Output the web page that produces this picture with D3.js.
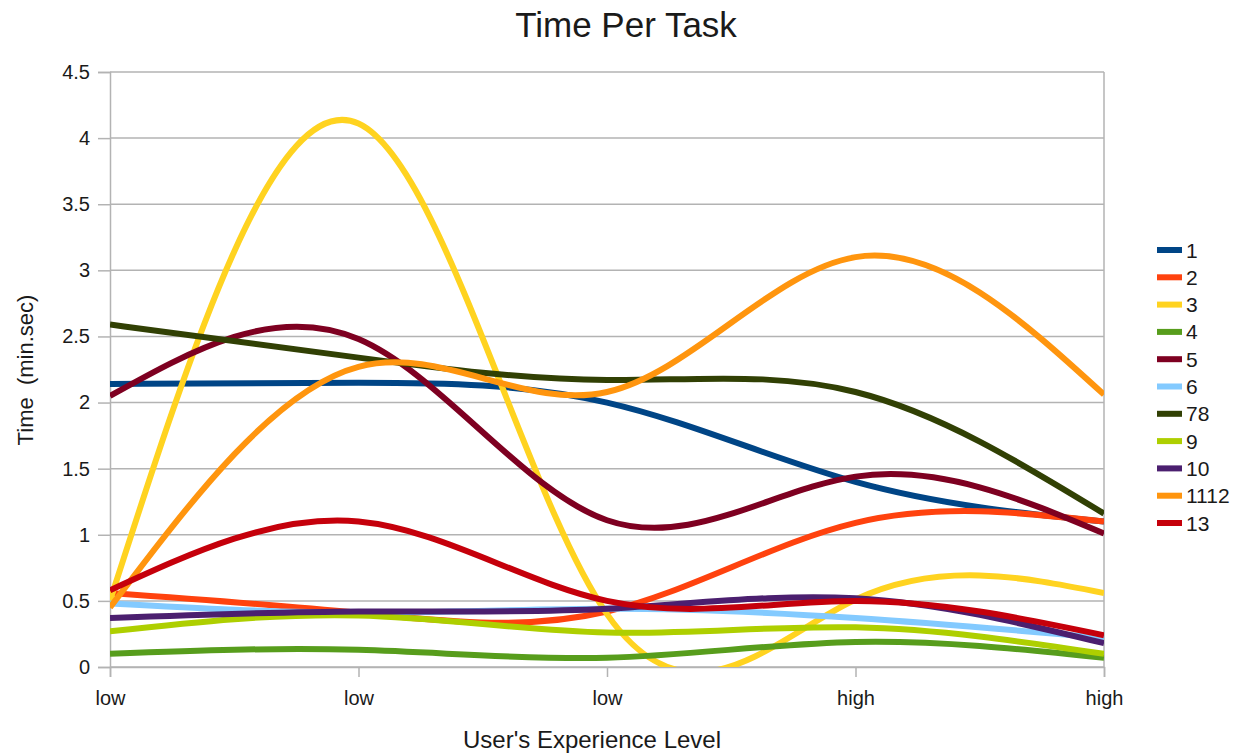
<html>
<head>
<style>
  body { margin: 0; background: #fff; }
  text { font-family: "Liberation Sans", Arial, sans-serif; fill: #1a1a1a; }
</style>
</head>
<body>
<script src="https://d3js.org/d3.v7.min.js" charset="utf-8"></script>
<script type="text/javascript">

// data
var categories = ["low", "low", "low", "high", "high"];
var seriesNames = ["1", "2", "3", "4", "5", "6", "78", "9", "10", "1112", "13"];
var colors = ["#004586", "#ff420e", "#ffd320", "#579d1c", "#7e0021", "#83caff",
              "#314004", "#aecf00", "#4b1f6f", "#ff950e", "#c5000b"];
var s1    = [2.14, 2.15, 2.00, 1.40, 1.10];
var s2    = [0.56, 0.41, 0.42, 1.09, 1.10];
var s3    = [0.50, 4.11, 0.40, 0.51, 0.56];
var s4    = [0.10, 0.13, 0.07, 0.19, 0.07];
var s5    = [2.05, 2.48, 1.11, 1.44, 1.01];
var s6    = [0.48, 0.41, 0.44, 0.37, 0.22];
var s78   = [2.59, 2.34, 2.17, 2.08, 1.16];
var s9    = [0.27, 0.39, 0.26, 0.30, 0.10];
var s10   = [0.37, 0.42, 0.44, 0.52, 0.18];
var s1112 = [0.45, 2.27, 2.08, 3.10, 2.06];
var s13   = [0.58, 1.10, 0.50, 0.50, 0.24];
var yTicks = [0, 0.5, 1, 1.5, 2, 2.5, 3, 3.5, 4, 4.5];

var values = [s1, s2, s3, s4, s5, s6, s78, s9, s10, s1112, s13];

// layout
var width = 1242, height = 756;
var plotLeft = 110, plotRight = 1104, plotTop = 72, plotBottom = 667;

var svg = d3.select("body").append("svg")
    .attr("width", width)
    .attr("height", height);

var x = d3.scalePoint()
    .domain(d3.range(categories.length))
    .range([plotLeft, plotRight]);

var y = d3.scaleLinear()
    .domain([0, 4.5])
    .range([plotBottom, plotTop]);

// gridlines
svg.append("g").selectAll("line")
    .data(yTicks)
    .enter().append("line")
    .attr("x1", plotLeft).attr("x2", plotRight)
    .attr("y1", function(d) { return y(d); })
    .attr("y2", function(d) { return y(d); })
    .attr("stroke", "#b3b3b3")
    .attr("stroke-width", 1.5);

// y axis
var yAxis = svg.append("g")
    .attr("transform", "translate(" + plotLeft + ",0)")
    .call(d3.axisLeft(y).tickValues(yTicks).tickSize(12).tickPadding(8)
        .tickFormat(function(d) { return String(d); }));
yAxis.selectAll("text").style("font-size", "20px").attr("fill", "#1a1a1a");

// x axis
var xAxis = svg.append("g")
    .attr("transform", "translate(0," + plotBottom + ")")
    .call(d3.axisBottom(x).tickSize(10).tickPadding(14)
        .tickFormat(function(d) { return categories[d]; }));
xAxis.selectAll("text").style("font-size", "20px").attr("fill", "#1a1a1a");

svg.selectAll(".domain, .tick line")
    .attr("stroke", "#b3b3b3")
    .attr("stroke-width", 1.5);

// right border
svg.append("line")
    .attr("x1", plotRight).attr("x2", plotRight)
    .attr("y1", plotTop).attr("y2", plotBottom)
    .attr("stroke", "#b3b3b3")
    .attr("stroke-width", 1.5);

// clip
svg.append("clipPath").attr("id", "plot")
    .append("rect")
    .attr("x", plotLeft).attr("y", plotTop)
    .attr("width", plotRight - plotLeft).attr("height", plotBottom - plotTop);

var line = d3.line()
    .x(function(d, i) { return x(i); })
    .y(function(d) { return y(d); })
    .curve(d3.curveNatural);

svg.append("g")
    .attr("clip-path", "url(#plot)")
    .selectAll("path")
    .data(values)
    .enter().append("path")
    .attr("d", line)
    .attr("fill", "none")
    .attr("stroke", function(d, i) { return colors[i]; })
    .attr("stroke-width", 6)
    .attr("stroke-linecap", "butt");

// legend
var legend = svg.append("g").selectAll("g")
    .data(seriesNames)
    .enter().append("g")
    .attr("transform", function(d, i) { return "translate(1157," + (250 + i * 27.3) + ")"; });

legend.append("rect")
    .attr("x", 0).attr("y", -3)
    .attr("width", 25).attr("height", 6)
    .attr("fill", function(d, i) { return colors[i]; });

legend.append("text")
    .attr("x", 29).attr("y", 7.5)
    .style("font-size", "21px")
    .text(function(d) { return d; });

// titles
svg.append("text")
    .attr("x", 626).attr("y", 37)
    .attr("text-anchor", "middle")
    .style("font-size", "35px")
    .text("Time Per Task");

svg.append("text")
    .attr("x", 592).attr("y", 748)
    .attr("text-anchor", "middle")
    .style("font-size", "24px")
    .text("User's Experience Level");

svg.append("text")
    .attr("transform", "translate(33,370) rotate(-90)")
    .attr("text-anchor", "middle")
    .style("font-size", "22px")
    .style("white-space", "pre")
    .text("Time  (min.sec)");

</script>
</body>
</html>
